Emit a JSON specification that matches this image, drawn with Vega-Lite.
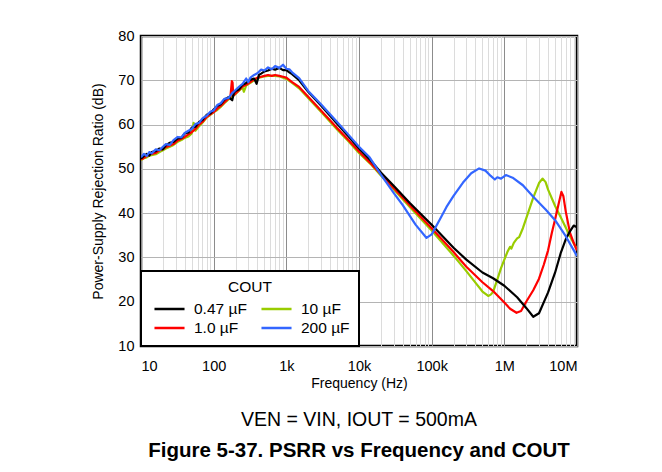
{
  "$schema": "https://vega.github.io/schema/vega-lite/v6.json",
  "width": 436,
  "height": 310,
  "autosize": {"type": "none"},
  "padding": {"left": 141, "top": 36, "right": 85, "bottom": 126},
  "background": "white",
  "config": {
    "font": "Liberation Sans",
    "view": {"stroke": "black", "strokeWidth": 2.5},
    "axis": {"labelColor": "black", "titleColor": "black", "titleFontWeight": "normal", "labelFont": "Liberation Sans", "titleFont": "Liberation Sans"}
  },
  "title": {
    "text": "VEN = VIN, IOUT = 500mA",
    "subtitle": "Figure 5-37. PSRR vs Frequency and COUT",
    "orient": "bottom",
    "anchor": "middle",
    "fontSize": 19.5,
    "fontWeight": "normal",
    "subtitleFontSize": 20.5,
    "subtitleFontWeight": "bold",
    "subtitleColor": "black",
    "color": "black",
    "offset": 20,
    "subtitlePadding": 11
  },
  "data": {"values": [
    {"f":10,"db":52.0,"c":"10 µF"},{"f":11,"db":52.4,"c":"10 µF"},{"f":12,"db":52.6,"c":"10 µF"},{"f":13,"db":53.0,"c":"10 µF"},{"f":14,"db":53.1,"c":"10 µF"},{"f":16,"db":53.3,"c":"10 µF"},{"f":18,"db":53.8,"c":"10 µF"},{"f":20,"db":54.2,"c":"10 µF"},{"f":22,"db":54.6,"c":"10 µF"},{"f":25,"db":55.0,"c":"10 µF"},{"f":28,"db":55.4,"c":"10 µF"},{"f":32,"db":56.1,"c":"10 µF"},{"f":36,"db":56.5,"c":"10 µF"},{"f":40,"db":57.0,"c":"10 µF"},{"f":45,"db":57.3,"c":"10 µF"},{"f":50,"db":58.0,"c":"10 µF"},{"f":53,"db":60.4,"c":"10 µF"},{"f":56,"db":58.6,"c":"10 µF"},{"f":63,"db":59.6,"c":"10 µF"},{"f":70,"db":60.4,"c":"10 µF"},{"f":80,"db":61.6,"c":"10 µF"},{"f":90,"db":62.2,"c":"10 µF"},{"f":100,"db":62.8,"c":"10 µF"},{"f":112,"db":63.3,"c":"10 µF"},{"f":125,"db":64.0,"c":"10 µF"},{"f":140,"db":64.8,"c":"10 µF"},{"f":160,"db":65.7,"c":"10 µF"},{"f":180,"db":66.4,"c":"10 µF"},{"f":200,"db":66.9,"c":"10 µF"},{"f":225,"db":67.7,"c":"10 µF"},{"f":250,"db":68.4,"c":"10 µF"},{"f":260,"db":67.4,"c":"10 µF"},{"f":280,"db":68.8,"c":"10 µF"},{"f":320,"db":69.4,"c":"10 µF"},{"f":360,"db":70.0,"c":"10 µF"},{"f":400,"db":70.5,"c":"10 µF"},{"f":450,"db":70.7,"c":"10 µF"},{"f":500,"db":70.9,"c":"10 µF"},{"f":560,"db":71.0,"c":"10 µF"},{"f":630,"db":71.0,"c":"10 µF"},{"f":700,"db":71.0,"c":"10 µF"},{"f":800,"db":70.9,"c":"10 µF"},{"f":900,"db":70.6,"c":"10 µF"},{"f":1000,"db":70.3,"c":"10 µF"},{"f":1200,"db":69.4,"c":"10 µF"},{"f":1500,"db":68.2,"c":"10 µF"},{"f":2000,"db":66.0,"c":"10 µF"},{"f":3000,"db":62.9,"c":"10 µF"},{"f":5000,"db":58.9,"c":"10 µF"},{"f":7000,"db":56.4,"c":"10 µF"},{"f":10000,"db":53.6,"c":"10 µF"},{"f":15000,"db":50.8,"c":"10 µF"},{"f":20000,"db":48.5,"c":"10 µF"},{"f":30000,"db":45.4,"c":"10 µF"},{"f":50000,"db":41.4,"c":"10 µF"},{"f":100000,"db":36.1,"c":"10 µF"},{"f":200000,"db":30.4,"c":"10 µF"},{"f":300000,"db":26.9,"c":"10 µF"},{"f":400000,"db":24.3,"c":"10 µF"},{"f":500000,"db":22.3,"c":"10 µF"},{"f":600000,"db":21.3,"c":"10 µF"},{"f":650000,"db":21.6,"c":"10 µF"},{"f":700000,"db":22.2,"c":"10 µF"},{"f":800000,"db":25.0,"c":"10 µF"},{"f":900000,"db":27.6,"c":"10 µF"},{"f":1000000,"db":29.5,"c":"10 µF"},{"f":1100000,"db":31.2,"c":"10 µF"},{"f":1200000,"db":32.4,"c":"10 µF"},{"f":1250000,"db":32.0,"c":"10 µF"},{"f":1350000,"db":33.3,"c":"10 µF"},{"f":1500000,"db":34.3,"c":"10 µF"},{"f":1600000,"db":34.6,"c":"10 µF"},{"f":1800000,"db":36.6,"c":"10 µF"},{"f":2000000,"db":38.8,"c":"10 µF"},{"f":2500000,"db":43.5,"c":"10 µF"},{"f":3000000,"db":46.8,"c":"10 µF"},{"f":3350000,"db":47.8,"c":"10 µF"},{"f":3700000,"db":47.0,"c":"10 µF"},{"f":4000000,"db":45.3,"c":"10 µF"},{"f":5000000,"db":41.6,"c":"10 µF"},{"f":6000000,"db":39.0,"c":"10 µF"},{"f":8000000,"db":34.8,"c":"10 µF"},{"f":10000000,"db":31.8,"c":"10 µF"},

    {"f":10,"db":52.1,"c":"1.0 µF"},{"f":11,"db":52.5,"c":"1.0 µF"},{"f":12,"db":52.9,"c":"1.0 µF"},{"f":13,"db":53.2,"c":"1.0 µF"},{"f":14,"db":53.4,"c":"1.0 µF"},{"f":16,"db":53.6,"c":"1.0 µF"},{"f":18,"db":54.2,"c":"1.0 µF"},{"f":20,"db":54.5,"c":"1.0 µF"},{"f":22,"db":54.9,"c":"1.0 µF"},{"f":25,"db":55.3,"c":"1.0 µF"},{"f":28,"db":55.6,"c":"1.0 µF"},{"f":32,"db":56.4,"c":"1.0 µF"},{"f":36,"db":56.8,"c":"1.0 µF"},{"f":40,"db":57.2,"c":"1.0 µF"},{"f":45,"db":57.8,"c":"1.0 µF"},{"f":50,"db":58.3,"c":"1.0 µF"},{"f":56,"db":59.0,"c":"1.0 µF"},{"f":63,"db":60.0,"c":"1.0 µF"},{"f":70,"db":60.6,"c":"1.0 µF"},{"f":80,"db":61.7,"c":"1.0 µF"},{"f":90,"db":62.3,"c":"1.0 µF"},{"f":100,"db":62.8,"c":"1.0 µF"},{"f":112,"db":63.6,"c":"1.0 µF"},{"f":125,"db":64.2,"c":"1.0 µF"},{"f":140,"db":65.0,"c":"1.0 µF"},{"f":160,"db":65.9,"c":"1.0 µF"},{"f":170,"db":66.3,"c":"1.0 µF"},{"f":178,"db":69.8,"c":"1.0 µF"},{"f":182,"db":69.5,"c":"1.0 µF"},{"f":186,"db":66.5,"c":"1.0 µF"},{"f":200,"db":67.0,"c":"1.0 µF"},{"f":225,"db":67.8,"c":"1.0 µF"},{"f":250,"db":68.6,"c":"1.0 µF"},{"f":280,"db":69.0,"c":"1.0 µF"},{"f":320,"db":69.6,"c":"1.0 µF"},{"f":360,"db":70.2,"c":"1.0 µF"},{"f":400,"db":70.6,"c":"1.0 µF"},{"f":450,"db":70.8,"c":"1.0 µF"},{"f":500,"db":71.0,"c":"1.0 µF"},{"f":560,"db":71.2,"c":"1.0 µF"},{"f":630,"db":71.0,"c":"1.0 µF"},{"f":700,"db":71.2,"c":"1.0 µF"},{"f":800,"db":71.0,"c":"1.0 µF"},{"f":900,"db":70.8,"c":"1.0 µF"},{"f":1000,"db":70.6,"c":"1.0 µF"},{"f":1200,"db":69.6,"c":"1.0 µF"},{"f":1500,"db":68.5,"c":"1.0 µF"},{"f":2000,"db":66.3,"c":"1.0 µF"},{"f":3000,"db":63.2,"c":"1.0 µF"},{"f":5000,"db":59.2,"c":"1.0 µF"},{"f":7000,"db":56.7,"c":"1.0 µF"},{"f":10000,"db":53.9,"c":"1.0 µF"},{"f":15000,"db":51.0,"c":"1.0 µF"},{"f":20000,"db":48.8,"c":"1.0 µF"},{"f":30000,"db":45.7,"c":"1.0 µF"},{"f":50000,"db":41.8,"c":"1.0 µF"},{"f":100000,"db":36.6,"c":"1.0 µF"},{"f":200000,"db":31.2,"c":"1.0 µF"},{"f":300000,"db":27.9,"c":"1.0 µF"},{"f":500000,"db":24.4,"c":"1.0 µF"},{"f":700000,"db":22.4,"c":"1.0 µF"},{"f":1000000,"db":19.8,"c":"1.0 µF"},{"f":1200000,"db":18.4,"c":"1.0 µF"},{"f":1470000,"db":17.5,"c":"1.0 µF"},{"f":1700000,"db":17.9,"c":"1.0 µF"},{"f":2000000,"db":20.0,"c":"1.0 µF"},{"f":2500000,"db":22.6,"c":"1.0 µF"},{"f":3000000,"db":25.2,"c":"1.0 µF"},{"f":3500000,"db":28.4,"c":"1.0 µF"},{"f":4000000,"db":31.6,"c":"1.0 µF"},{"f":4500000,"db":35.5,"c":"1.0 µF"},{"f":5000000,"db":38.6,"c":"1.0 µF"},{"f":5600000,"db":42.2,"c":"1.0 µF"},{"f":6100000,"db":44.8,"c":"1.0 µF"},{"f":6500000,"db":43.8,"c":"1.0 µF"},{"f":7000000,"db":40.4,"c":"1.0 µF"},{"f":8000000,"db":35.6,"c":"1.0 µF"},{"f":9000000,"db":33.3,"c":"1.0 µF"},{"f":10000000,"db":31.6,"c":"1.0 µF"},

    {"f":10,"db":52.3,"c":"0.47 µF"},{"f":11,"db":52.9,"c":"0.47 µF"},{"f":12,"db":53.4,"c":"0.47 µF"},{"f":13,"db":53.0,"c":"0.47 µF"},{"f":14,"db":53.8,"c":"0.47 µF"},{"f":16,"db":54.0,"c":"0.47 µF"},{"f":18,"db":54.6,"c":"0.47 µF"},{"f":20,"db":54.4,"c":"0.47 µF"},{"f":22,"db":55.3,"c":"0.47 µF"},{"f":25,"db":55.9,"c":"0.47 µF"},{"f":28,"db":56.1,"c":"0.47 µF"},{"f":32,"db":56.9,"c":"0.47 µF"},{"f":36,"db":57.0,"c":"0.47 µF"},{"f":40,"db":58.0,"c":"0.47 µF"},{"f":45,"db":58.2,"c":"0.47 µF"},{"f":50,"db":59.3,"c":"0.47 µF"},{"f":56,"db":59.5,"c":"0.47 µF"},{"f":63,"db":60.6,"c":"0.47 µF"},{"f":70,"db":61.0,"c":"0.47 µF"},{"f":80,"db":62.2,"c":"0.47 µF"},{"f":90,"db":62.5,"c":"0.47 µF"},{"f":100,"db":63.4,"c":"0.47 µF"},{"f":112,"db":64.2,"c":"0.47 µF"},{"f":125,"db":64.6,"c":"0.47 µF"},{"f":140,"db":65.6,"c":"0.47 µF"},{"f":160,"db":66.2,"c":"0.47 µF"},{"f":180,"db":65.5,"c":"0.47 µF"},{"f":190,"db":67.2,"c":"0.47 µF"},{"f":200,"db":67.6,"c":"0.47 µF"},{"f":225,"db":68.0,"c":"0.47 µF"},{"f":250,"db":69.0,"c":"0.47 µF"},{"f":280,"db":69.4,"c":"0.47 µF"},{"f":320,"db":70.1,"c":"0.47 µF"},{"f":360,"db":70.4,"c":"0.47 µF"},{"f":390,"db":69.2,"c":"0.47 µF"},{"f":420,"db":71.2,"c":"0.47 µF"},{"f":450,"db":71.5,"c":"0.47 µF"},{"f":500,"db":72.0,"c":"0.47 µF"},{"f":560,"db":72.2,"c":"0.47 µF"},{"f":630,"db":72.6,"c":"0.47 µF"},{"f":700,"db":72.4,"c":"0.47 µF"},{"f":800,"db":72.8,"c":"0.47 µF"},{"f":900,"db":72.3,"c":"0.47 µF"},{"f":1000,"db":72.3,"c":"0.47 µF"},{"f":1100,"db":71.8,"c":"0.47 µF"},{"f":1200,"db":71.4,"c":"0.47 µF"},{"f":1500,"db":70.0,"c":"0.47 µF"},{"f":2000,"db":67.4,"c":"0.47 µF"},{"f":3000,"db":64.3,"c":"0.47 µF"},{"f":5000,"db":60.2,"c":"0.47 µF"},{"f":7000,"db":57.5,"c":"0.47 µF"},{"f":10000,"db":54.6,"c":"0.47 µF"},{"f":15000,"db":51.6,"c":"0.47 µF"},{"f":20000,"db":49.2,"c":"0.47 µF"},{"f":30000,"db":46.2,"c":"0.47 µF"},{"f":50000,"db":42.3,"c":"0.47 µF"},{"f":100000,"db":37.4,"c":"0.47 µF"},{"f":200000,"db":32.2,"c":"0.47 µF"},{"f":300000,"db":29.5,"c":"0.47 µF"},{"f":500000,"db":26.6,"c":"0.47 µF"},{"f":700000,"db":25.3,"c":"0.47 µF"},{"f":1000000,"db":23.6,"c":"0.47 µF"},{"f":1500000,"db":21.0,"c":"0.47 µF"},{"f":2000000,"db":18.6,"c":"0.47 µF"},{"f":2500000,"db":16.6,"c":"0.47 µF"},{"f":3000000,"db":17.4,"c":"0.47 µF"},{"f":4000000,"db":22.1,"c":"0.47 µF"},{"f":5000000,"db":26.6,"c":"0.47 µF"},{"f":6000000,"db":31.1,"c":"0.47 µF"},{"f":7000000,"db":34.1,"c":"0.47 µF"},{"f":8000000,"db":35.9,"c":"0.47 µF"},{"f":9000000,"db":37.2,"c":"0.47 µF"},{"f":10000000,"db":36.8,"c":"0.47 µF"},

    {"f":10,"db":52.6,"c":"200 µF"},{"f":11,"db":53.4,"c":"200 µF"},{"f":12,"db":52.9,"c":"200 µF"},{"f":13,"db":53.8,"c":"200 µF"},{"f":14,"db":53.5,"c":"200 µF"},{"f":16,"db":54.4,"c":"200 µF"},{"f":18,"db":54.2,"c":"200 µF"},{"f":20,"db":55.0,"c":"200 µF"},{"f":22,"db":55.6,"c":"200 µF"},{"f":25,"db":55.4,"c":"200 µF"},{"f":28,"db":56.5,"c":"200 µF"},{"f":32,"db":57.2,"c":"200 µF"},{"f":36,"db":57.1,"c":"200 µF"},{"f":40,"db":58.1,"c":"200 µF"},{"f":45,"db":58.6,"c":"200 µF"},{"f":50,"db":59.0,"c":"200 µF"},{"f":56,"db":60.1,"c":"200 µF"},{"f":63,"db":60.4,"c":"200 µF"},{"f":70,"db":61.4,"c":"200 µF"},{"f":80,"db":62.0,"c":"200 µF"},{"f":90,"db":62.9,"c":"200 µF"},{"f":100,"db":63.2,"c":"200 µF"},{"f":112,"db":64.4,"c":"200 µF"},{"f":125,"db":64.8,"c":"200 µF"},{"f":140,"db":65.8,"c":"200 µF"},{"f":160,"db":66.0,"c":"200 µF"},{"f":180,"db":67.1,"c":"200 µF"},{"f":200,"db":67.8,"c":"200 µF"},{"f":225,"db":68.6,"c":"200 µF"},{"f":250,"db":69.2,"c":"200 µF"},{"f":280,"db":70.4,"c":"200 µF"},{"f":300,"db":69.6,"c":"200 µF"},{"f":320,"db":70.6,"c":"200 µF"},{"f":360,"db":71.2,"c":"200 µF"},{"f":400,"db":71.6,"c":"200 µF"},{"f":450,"db":72.4,"c":"200 µF"},{"f":500,"db":72.2,"c":"200 µF"},{"f":560,"db":72.9,"c":"200 µF"},{"f":630,"db":72.5,"c":"200 µF"},{"f":700,"db":73.2,"c":"200 µF"},{"f":800,"db":72.8,"c":"200 µF"},{"f":900,"db":73.5,"c":"200 µF"},{"f":1000,"db":72.6,"c":"200 µF"},{"f":1100,"db":72.5,"c":"200 µF"},{"f":1200,"db":71.8,"c":"200 µF"},{"f":1500,"db":70.5,"c":"200 µF"},{"f":2000,"db":67.6,"c":"200 µF"},{"f":3000,"db":64.6,"c":"200 µF"},{"f":5000,"db":60.6,"c":"200 µF"},{"f":7000,"db":57.9,"c":"200 µF"},{"f":10000,"db":55.0,"c":"200 µF"},{"f":14000,"db":52.6,"c":"200 µF"},{"f":20000,"db":48.7,"c":"200 µF"},{"f":30000,"db":44.6,"c":"200 µF"},{"f":40000,"db":41.8,"c":"200 µF"},{"f":60000,"db":37.4,"c":"200 µF"},{"f":85000,"db":34.4,"c":"200 µF"},{"f":100000,"db":35.2,"c":"200 µF"},{"f":130000,"db":38.6,"c":"200 µF"},{"f":160000,"db":41.4,"c":"200 µF"},{"f":200000,"db":43.9,"c":"200 µF"},{"f":270000,"db":46.9,"c":"200 µF"},{"f":350000,"db":49.0,"c":"200 µF"},{"f":450000,"db":50.1,"c":"200 µF"},{"f":550000,"db":49.6,"c":"200 µF"},{"f":650000,"db":48.4,"c":"200 µF"},{"f":740000,"db":47.6,"c":"200 µF"},{"f":800000,"db":48.1,"c":"200 µF"},{"f":900000,"db":47.8,"c":"200 µF"},{"f":1050000,"db":48.6,"c":"200 µF"},{"f":1300000,"db":48.0,"c":"200 µF"},{"f":1800000,"db":46.3,"c":"200 µF"},{"f":2500000,"db":43.7,"c":"200 µF"},{"f":3700000,"db":40.8,"c":"200 µF"},{"f":5000000,"db":38.4,"c":"200 µF"},{"f":7000000,"db":34.8,"c":"200 µF"},{"f":10000000,"db":30.3,"c":"200 µF"}
  ]},
  "mark": {"type": "line", "strokeWidth": 2.2, "strokeJoin": "round", "clip": true},
  "encoding": {
    "x": {
      "field": "f", "type": "quantitative",
      "scale": {"type": "log", "domain": [10, 10000000], "nice": false},
      "axis": {
        "title": "Frequency (Hz)",
        "titleFontSize": 14,
        "titlePadding": 4,
        "labelFontSize": 14.5,
        "labelPadding": 13,
        "labelOverlap": false,
        "labelBound": false,
        "ticks": false,
        "domain": false,
        "values": [10,20,30,40,50,60,70,80,90,100,200,300,400,500,600,700,800,900,1000,2000,3000,4000,5000,6000,7000,8000,9000,10000,20000,30000,40000,50000,60000,70000,80000,90000,100000,200000,300000,400000,500000,600000,700000,800000,900000,1000000,2000000,3000000,4000000,5000000,6000000,7000000,8000000,9000000,10000000],
        "labelExpr": "datum.value == 10 ? '10' : datum.value == 100 ? '100' : datum.value == 1000 ? '1k' : datum.value == 10000 ? '10k' : datum.value == 100000 ? '100k' : datum.value == 1000000 ? '1M' : datum.value == 10000000 ? '10M' : ''",
        "gridColor": {"condition": {"test": "indexof([10,100,1000,10000,100000,1000000,10000000], datum.value) >= 0", "value": "#8c8c8c"}, "value": "#dcdcdc"},
        "gridOpacity": 1
      }
    },
    "y": {
      "field": "db", "type": "quantitative",
      "scale": {"domain": [10, 80], "nice": false},
      "axis": {
        "title": "Power-Supply Rejection Ratio (dB)",
        "titleFontSize": 14,
        "titlePadding": 12,
        "labelFontSize": 14.5,
        "labelPadding": 7,
        "ticks": false,
        "domain": false,
        "values": [10,20,30,40,50,60,70,80],
        "gridColor": "#b4b4b4",
        "gridOpacity": 1
      }
    },
    "color": {
      "field": "c", "type": "nominal",
      "scale": {"domain": ["0.47 µF", "1.0 µF", "10 µF", "200 µF"], "range": ["#000000", "#FF0000", "#99CC00", "#3366FF"]},
      "legend": {
        "title": "COUT",
        "values": ["0.47 µF", "1.0 µF", "10 µF", "200 µF"],
        "orient": "bottom-left",
        "offset": 0,
        "columns": 2,
        "columnPadding": 9,
        "rowPadding": 0,
        "padding": 9,
        "fillColor": "white",
        "strokeColor": "black",
        "symbolType": "M-0.67,0H2.67",
        "symbolSize": 324,
        "symbolStrokeWidth": 2.5,
        "labelFontSize": 15.5,
        "labelColor": "black",
        "labelOffset": 23,
        "titleFontSize": 15.5,
        "titleFontWeight": "normal",
        "titleColor": "black",
        "titleAnchor": "middle",
        "titlePadding": 3,
        "encode": {"legend": {"update": {"strokeWidth": {"value": 2}}}}
      }
    }
  }
}
